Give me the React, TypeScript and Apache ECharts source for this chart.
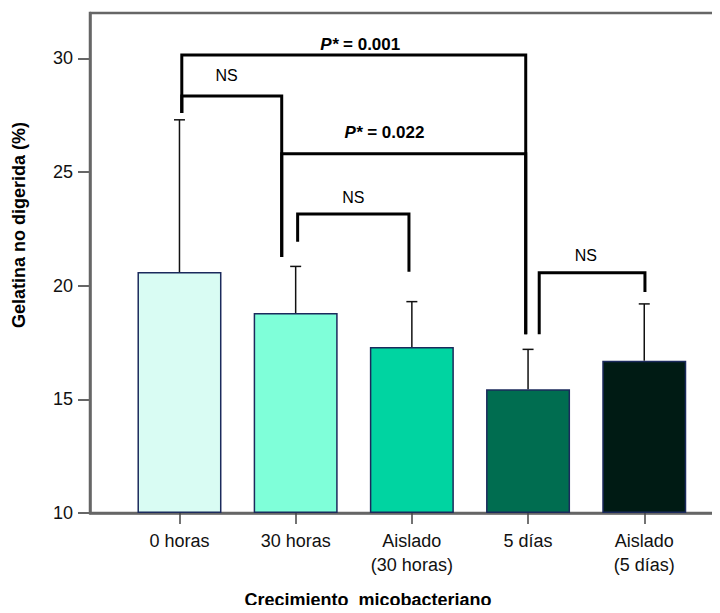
import React, { useEffect, useRef } from "react";
import * as echarts from "echarts";

// Groups on the horizontal axis (placed at x = 1..5)
const CATEGORIES = ["0 horas", "30 horas", "Aislado\n(30 horas)", "5 días", "Aislado\n(5 días)"];
const CATEGORY_X = [1, 2, 3, 4, 5];
// Mean undigested gelatin (%) and top of the error bar (mean + SD)
const MEANS = [20.6, 18.8, 17.3, 15.45, 16.7];
const UPPER = [27.3, 20.85, 19.3, 17.2, 19.2];
const BAR_COLORS = ["#d9fcf3", "#7fffd9", "#00d4a1", "#006d50", "#001b14"];
const Y_TICKS = [10, 15, 20, 25, 30];

// Significance brackets: leg x-positions, bar height, bottoms of the left/right legs, label
const BRACKET_X1 = [1.02, 1.02, 1.88, 2.017, 4.096];
const BRACKET_X2 = [3.98, 1.88, 3.98, 2.975, 5.006];
const BRACKET_TOP = [30.15, 28.35, 25.81, 23.16, 20.57];
const BRACKET_LEFT = [27.6, 27.6, 21.26, 21.93, 17.87];
const BRACKET_RIGHT = [17.87, 21.26, 17.87, 20.61, 19.72];
const BRACKET_LABEL = ["P* = 0.001", "NS", "P* = 0.022", "NS", "NS"];
const BRACKET_LABEL_X = [2.556, 1.406, 2.764, 2.496, 4.498];
const BRACKET_LABEL_Y = [30.61, 29.23, 26.74, 23.89, 21.35];

const FONT = "'Liberation Sans', Arial, Helvetica, sans-serif";

export default function App() {
  const ref = useRef<HTMLDivElement>(null);

  useEffect(() => {
    if (!ref.current) return;
    const chart = echarts.init(ref.current, null, { renderer: "svg" });

    const barData = MEANS.map((m, i) => ({
      value: [CATEGORY_X[i], m],
      itemStyle: { color: BAR_COLORS[i] },
    }));
    const errData = MEANS.map((m, i) => [CATEGORY_X[i], m, UPPER[i]]);
    const bracketData = BRACKET_TOP.map((t, i) => [BRACKET_X1[i], t]);

    const option: any = {
      animation: false,
      backgroundColor: "#ffffff",
      grid: {
        left: 90,
        top: 13,
        bottom: 100,
        width: 645,
        outerBoundsMode: "none",
        containLabel: false,
        show: true,
        borderColor: "#666",
        borderWidth: 2.5,
      },
      xAxis: {
        type: "value",
        min: 0.23,
        max: 5.781,
        splitLine: { show: false },
        axisLine: { show: true, lineStyle: { color: "#666", width: 2.5 } },
        axisTick: {
          show: true,
          customValues: CATEGORY_X,
          length: 11,
          lineStyle: { color: "#444", width: 1.5 },
        },
        axisLabel: {
          customValues: CATEGORY_X,
          formatter: (v: number) => CATEGORIES[Math.round(v) - 1] ?? "",
          margin: 16,
          color: "#111",
          fontFamily: FONT,
          fontSize: 18,
          lineHeight: 24,
        },
      },
      yAxis: {
        type: "value",
        min: 10,
        max: 32,
        startValue: 10,
        splitLine: { show: false },
        axisLine: { show: true, lineStyle: { color: "#666", width: 2.5 } },
        axisTick: {
          show: true,
          customValues: Y_TICKS,
          length: 12,
          lineStyle: { color: "#666", width: 2 },
        },
        axisLabel: {
          customValues: Y_TICKS,
          margin: 17,
          color: "#111",
          fontFamily: FONT,
          fontSize: 18,
        },
      },
      series: [
        {
          type: "bar",
          data: barData,
          barWidth: 84,
          itemStyle: { borderColor: "#1b2a5c", borderWidth: 1.5 },
          z: 2,
        },
        {
          type: "custom",
          data: errData,
          encode: { x: 0, y: [1, 2] },
          z: 3,
          renderItem: (_p: any, api: any) => {
            const x = api.value(0);
            const base = api.coord([x, api.value(1)]);
            const top = api.coord([x, api.value(2)]);
            const style = { stroke: "#111", lineWidth: 1.5 };
            return {
              type: "group",
              children: [
                { type: "line", shape: { x1: base[0], y1: base[1], x2: top[0], y2: top[1] }, style },
                { type: "line", shape: { x1: top[0] - 5.5, y1: top[1], x2: top[0] + 5.5, y2: top[1] }, style },
              ],
            };
          },
        },
        {
          type: "custom",
          data: bracketData,
          encode: { x: 0, y: 1 },
          clip: false,
          z: 4,
          renderItem: (params: any, api: any) => {
            const i = params.dataIndex;
            const pts = [
              api.coord([BRACKET_X1[i], BRACKET_LEFT[i]]),
              api.coord([BRACKET_X1[i], BRACKET_TOP[i]]),
              api.coord([BRACKET_X2[i], BRACKET_TOP[i]]),
              api.coord([BRACKET_X2[i], BRACKET_RIGHT[i]]),
            ];
            const lp = api.coord([BRACKET_LABEL_X[i], BRACKET_LABEL_Y[i]]);
            const label = BRACKET_LABEL[i];
            const isP = label.startsWith("P*");
            return {
              type: "group",
              children: [
                {
                  type: "polyline",
                  shape: { points: pts },
                  style: { stroke: "#000", lineWidth: 3, fill: null, lineJoin: "miter" },
                },
                {
                  type: "text",
                  x: lp[0],
                  y: lp[1],
                  style: isP
                    ? {
                        text: "{i|P*}{b|" + label.slice(2) + "}",
                        align: "center",
                        verticalAlign: "middle",
                        rich: {
                          i: { fontFamily: FONT, fontSize: 17, fontWeight: "bold", fontStyle: "italic", fill: "#000" },
                          b: { fontFamily: FONT, fontSize: 17, fontWeight: "bold", fill: "#000" },
                        },
                      }
                    : {
                        text: label,
                        align: "center",
                        verticalAlign: "middle",
                        fontFamily: FONT,
                        fontSize: 16,
                        fill: "#000",
                      },
                },
              ],
            };
          },
        },
      ],
      graphic: [
        {
          type: "text",
          x: 19,
          y: 225,
          rotation: Math.PI / 2,
          style: {
            text: "Gelatina no digerida (%)",
            fontFamily: FONT,
            fontSize: 18,
            fontWeight: "bold",
            fill: "#000",
            align: "center",
            verticalAlign: "middle",
          },
        },
        {
          type: "text",
          x: 368,
          y: 600,
          style: {
            text: "Crecimiento  micobacteriano",
            fontFamily: FONT,
            fontSize: 18,
            fontWeight: "bold",
            fill: "#000",
            align: "center",
            verticalAlign: "middle",
          },
        },
      ],
    };

    chart.setOption(option);
    return () => chart.dispose();
  }, []);

  return <div ref={ref} style={{ width: 720, height: 613, margin: -8 }} />;
}
